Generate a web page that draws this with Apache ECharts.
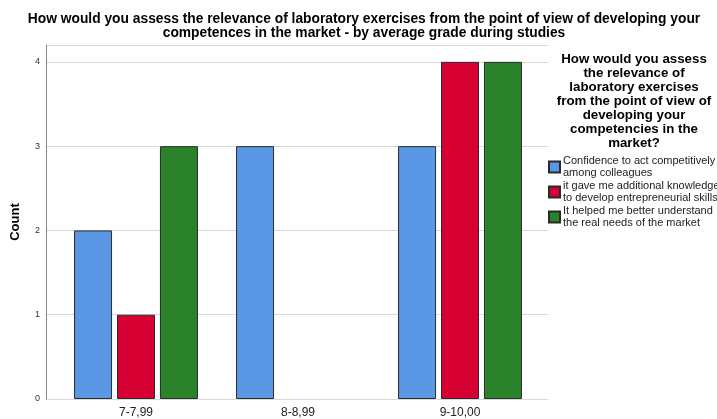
<!DOCTYPE html>
<html>
<head>
<meta charset="utf-8">
<script src="https://cdn.jsdelivr.net/npm/echarts@6/dist/echarts.min.js"></script>
<style>
  html, body { margin: 0; padding: 0; background: #fff; }
  #chart { width: 717px; height: 419px; }
</style>
</head>
<body>
<div id="chart"></div>
<script>
// Average grade groups
const categories = ['7-7,99', '8-8,99', '9-10,00'];

// Answer options (legend entries)
const seriesNames = [
  'Confidence to act competitively among colleagues',
  'it gave me additional knowledge to develop entrepreneurial skills',
  'It helped me better understand the real needs of the market'
];

// Counts per grade group
const confidenceCounts = [2, 3, 3];
const knowledgeCounts = [1, 0, 4];
const marketCounts = [3, 0, 4];

const yTicks = [0, 1, 2, 3, 4];

const colors = ['#5a97e4', '#d60032', '#2a822a'];

// Legend text is wrapped onto two lines
const legendLines = {
  'Confidence to act competitively among colleagues': 'Confidence to act competitively\namong colleagues',
  'it gave me additional knowledge to develop entrepreneurial skills': 'it gave me additional knowledge\nto develop entrepreneurial skills',
  'It helped me better understand the real needs of the market': 'It helped me better understand\nthe real needs of the market'
};

const font = 'Liberation Sans, Arial, sans-serif';
const seriesValues = [confidenceCounts, knowledgeCounts, marketCounts];

const chart = echarts.init(document.getElementById('chart'), null, { renderer: 'canvas' });

chart.setOption({
  animation: false,
  backgroundColor: '#ffffff',
  title: [
    {
      text: 'How would you assess the relevance of laboratory exercises from the point of view of developing your\ncompetences in the market - by average grade during studies',
      left: 359,
      top: 7,
      textAlign: 'center',
      textStyle: { fontFamily: font, fontSize: 13.8, fontWeight: 'bold', color: '#000', lineHeight: 14 }
    },
    {
      text: 'How would you assess\nthe relevance of\nlaboratory exercises\nfrom the point of view of\ndeveloping your\ncompetencies in the\nmarket?',
      left: 629,
      top: 47,
      textAlign: 'center',
      textStyle: { fontFamily: font, fontSize: 13.3, fontWeight: 'bold', color: '#000', lineHeight: 14 }
    }
  ],
  legend: {
    orient: 'vertical',
    left: 543,
    top: 150,
    itemWidth: 11,
    itemHeight: 11,
    itemGap: 1,
    icon: 'rect',
    data: seriesNames,
    formatter: name => legendLines[name],
    textStyle: { fontFamily: font, fontSize: 11, color: '#222', lineHeight: 12, padding: [0, 0, 0, -2] }
  },
  grid: [
    // wide grid carries the value axis and gridlines
    { left: 46, right: 169, top: 45, bottom: 20, containLabel: false },
    // bar grid
    { left: 55, width: 486, top: 45, bottom: 20, containLabel: false }
  ],
  xAxis: [
    { gridIndex: 0, type: 'category', data: categories, show: false },
    {
      gridIndex: 1,
      type: 'category',
      data: categories,
      axisLine: { show: false },
      axisTick: { show: false },
      axisLabel: { fontFamily: font, fontSize: 12, color: '#222', margin: 8 }
    }
  ],
  yAxis: [
    {
      gridIndex: 0,
      type: 'value',
      min: 0,
      max: 4.2,
      interval: 1,
      name: 'Count',
      nameLocation: 'middle',
      nameGap: 24,
      nameTextStyle: { fontFamily: font, fontSize: 13, fontWeight: 'bold', color: '#000' },
      axisLine: { show: true, lineStyle: { color: '#888', width: 1 } },
      axisTick: { show: false },
      axisLabel: {
        fontFamily: font, fontSize: 9, color: '#333', margin: 6,
        formatter: v => (yTicks.includes(v) ? String(v) : '')
      },
      splitLine: { show: true, lineStyle: { color: '#d9d9d9', width: 1 } }
    },
    {
      gridIndex: 1,
      type: 'value',
      min: 0,
      max: 4.2,
      interval: 1,
      show: false,
      splitLine: { show: false }
    }
  ],
  series: seriesNames.map((name, i) => ({
    name: name,
    type: 'bar',
    xAxisIndex: 1,
    yAxisIndex: 1,
    // empty cells are left without a bar
    data: seriesValues[i].map(v => (v === 0 ? null : v)),
    barWidth: 38,
    barGap: '13%',
    itemStyle: { color: colors[i], borderColor: '#2a2a2a', borderWidth: 1 }
  }))
});
</script>
</body>
</html>
